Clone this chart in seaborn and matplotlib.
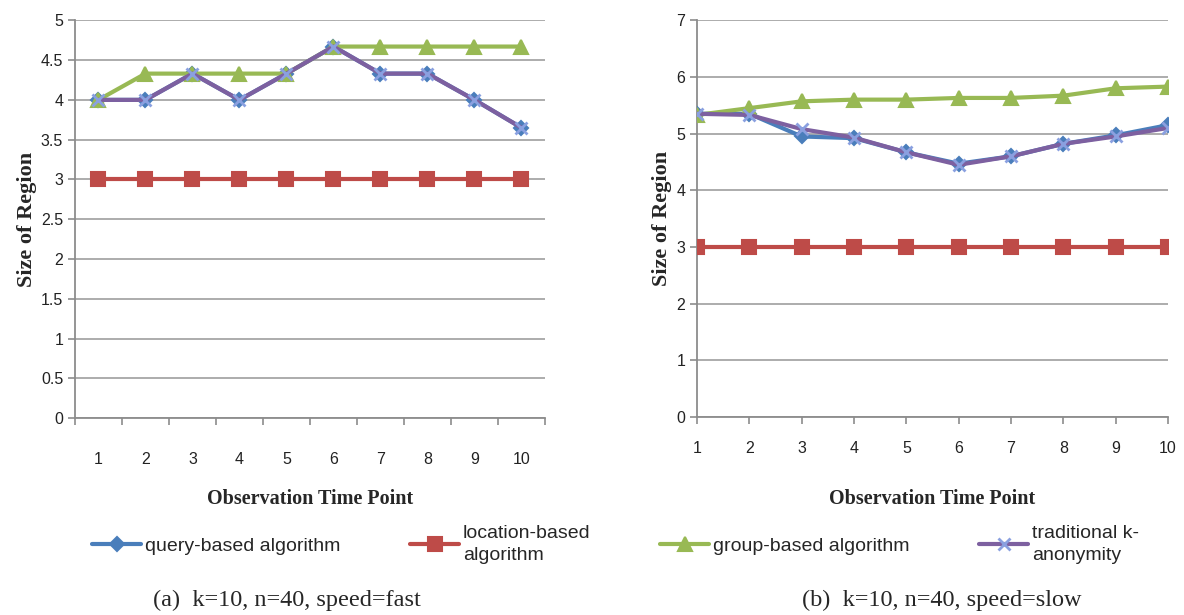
import numpy as np
import pandas as pd
import seaborn as sns
import matplotlib.pyplot as plt

time_points = [1, 2, 3, 4, 5, 6, 7, 8, 9, 10]
series_names = ['query-based algorithm', 'location-based\nalgorithm',
                'group-based algorithm', 'traditional k-\nanonymity']

# (a) speed = fast
fast_query = [4.0, 4.0, 4.33, 4.0, 4.33, 4.67, 4.33, 4.33, 4.0, 3.65]
fast_location = [3, 3, 3, 3, 3, 3, 3, 3, 3, 3]
fast_group = [4.0, 4.33, 4.33, 4.33, 4.33, 4.67, 4.67, 4.67, 4.67, 4.67]
fast_traditional = [4.0, 4.0, 4.33, 4.0, 4.33, 4.67, 4.33, 4.33, 4.0, 3.65]

# (b) speed = slow
slow_query = [5.35, 5.35, 4.95, 4.92, 4.67, 4.47, 4.6, 4.82, 4.97, 5.15]
slow_location = [3, 3, 3, 3, 3, 3, 3, 3, 3, 3]
slow_group = [5.33, 5.45, 5.57, 5.6, 5.6, 5.63, 5.63, 5.67, 5.8, 5.83]
slow_traditional = [5.35, 5.33, 5.08, 4.93, 4.67, 4.45, 4.6, 4.82, 4.95, 5.1]

captions = ['(a)  k=10, n=40, speed=fast', '(b)  k=10, n=40, speed=slow']

colors = ['#4a7ebb', '#be4b48', '#98b954', '#7d60a0']
markers = ['D', 's', '^', 'x']
msizes = [7, 10, 10, 9]

sns.set_style('white')
plt.rcParams['font.family'] = ['Liberation Sans', 'DejaVu Sans']

fig = plt.figure(figsize=(11.84, 6.15), dpi=100)
ax1 = fig.add_axes([0.0633, 0.320, 0.397, 0.647])
ax2 = fig.add_axes([0.5887, 0.322, 0.3978, 0.645])

panels = [
    (ax1, [fast_query, fast_location, fast_group, fast_traditional]),
    (ax2, [slow_query, slow_location, slow_group, slow_traditional]),
]

handles = []
for ax, values in panels:
    for i, vals in enumerate(values):
        df = pd.DataFrame({'t': time_points, 'v': vals})
        sns.lineplot(data=df, x='t', y='v', ax=ax, color=colors[i], lw=3,
                     marker=markers[i], markersize=msizes[i],
                     markeredgecolor=colors[i] if markers[i] != 'x' else '#8aa0e0',
                     markeredgewidth=1.5 if markers[i] != 'x' else 2,
                     zorder=3 + i)
    if ax is ax1:
        handles = ax.get_lines()[:4]

serif_bold = dict(family='Liberation Serif', fontweight='bold')
for ax in (ax1, ax2):
    ax.grid(axis='y', color='#a6a6a6', lw=1.3)
    ax.set_axisbelow(True)
    for s in ['top', 'right']:
        ax.spines[s].set_visible(False)
    for s in ['left', 'bottom']:
        ax.spines[s].set_color('#8c8c8c')
        ax.spines[s].set_linewidth(1.3)
    ax.set_ylabel('Size of Region', labelpad=3, fontsize=16, **serif_bold)
    ax.tick_params(axis='both', labelsize=11.5, colors='#8c8c8c', labelcolor='#222222',
                   length=5, width=1.2, direction='out', left=True, bottom=True)

# panel (a): categorical-style axis
ax1.set_xlim(0.5, 10.5)
ax1.set_ylim(0, 5)
ax1.set_yticks(np.arange(0, 5.01, 0.5))
ax1.set_yticklabels(['0', '0.5', '1', '1.5', '2', '2.5', '3', '3.5', '4', '4.5', '5'])
ax1.set_xticks(time_points)
ax1.set_xticks(np.arange(0.5, 11, 1), minor=True)
ax1.tick_params(axis='x', which='major', length=0, pad=24)
ax1.tick_params(axis='x', which='minor', length=5, width=1.2, colors='#8c8c8c', bottom=True)
ax1.set_xlabel('Observation Time Point', labelpad=16, fontsize=14.5, **serif_bold)

# panel (b)
ax2.set_xlim(1, 10)
ax2.set_ylim(0, 7)
ax2.set_yticks(range(0, 8))
ax2.set_xticks(time_points)
ax2.tick_params(axis='x', pad=12)
ax2.set_xlabel('Observation Time Point', labelpad=24, fontsize=14.5, **serif_bold)

leg = fig.legend(handles, series_names, loc='center', bbox_to_anchor=(0.52, 0.115), ncol=4,
                 frameon=False, handlelength=2.5, columnspacing=3.6,
                 handletextpad=0.2, prop={'family': 'Liberation Sans', 'size': 14})
for t in leg.get_texts():
    t.set_linespacing(1.35)

fig.text(0.242, 0.024, captions[0], ha='center', va='center', family='Liberation Serif', fontsize=17.5)
fig.text(0.795, 0.024, captions[1], ha='center', va='center', family='Liberation Serif', fontsize=17.5)

fig.savefig('out.png', dpi=100)
